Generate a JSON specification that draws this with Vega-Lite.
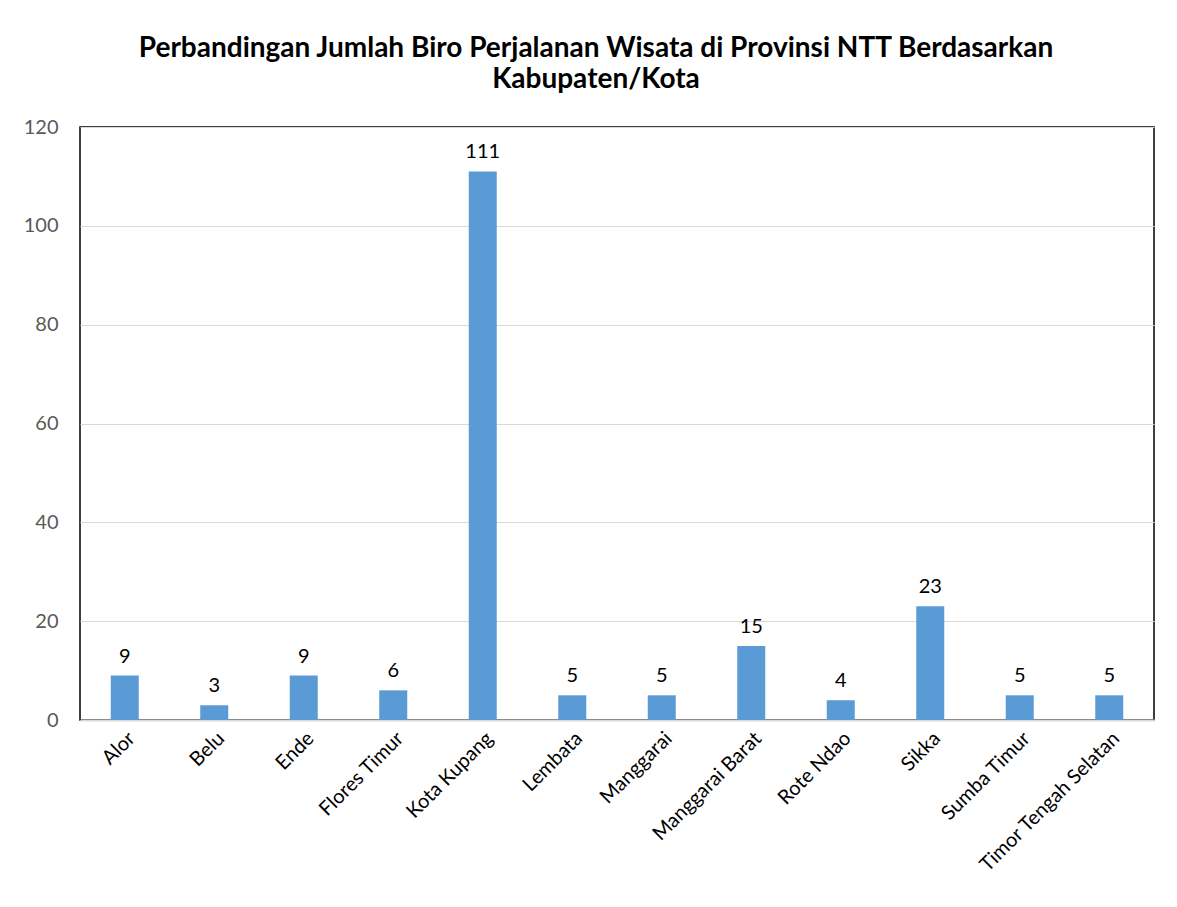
{
  "$schema": "https://vega.github.io/schema/vega-lite/v6.json",
  "autosize": {"type": "none"},
  "padding": {"left": 80, "top": 127, "right": 23, "bottom": 187},
  "width": 1074,
  "height": 593,
  "background": "white",
  "title": {
    "text": ["Perbandingan Jumlah Biro Perjalanan Wisata di Provinsi NTT Berdasarkan", "Kabupaten/Kota"],
    "font": "Lato",
    "fontSize": 28,
    "fontWeight": "bold",
    "color": "#000000",
    "lineHeight": 31,
    "anchor": "middle",
    "dx": -21,
    "offset": 23
  },
  "data": {
    "values": [
      {"kab": "Alor", "jumlah": 9},
      {"kab": "Belu", "jumlah": 3},
      {"kab": "Ende", "jumlah": 9},
      {"kab": "Flores Timur", "jumlah": 6},
      {"kab": "Kota Kupang", "jumlah": 111},
      {"kab": "Lembata", "jumlah": 5},
      {"kab": "Manggarai", "jumlah": 5},
      {"kab": "Manggarai Barat", "jumlah": 15},
      {"kab": "Rote Ndao", "jumlah": 4},
      {"kab": "Sikka", "jumlah": 23},
      {"kab": "Sumba Timur", "jumlah": 5},
      {"kab": "Timor Tengah Selatan", "jumlah": 5}
    ]
  },
  "config": {
    "view": {"stroke": "#000000", "strokeWidth": 1.5},
    "font": "Lato"
  },
  "encoding": {
    "x": {
      "field": "kab",
      "type": "nominal",
      "sort": null,
      "title": null,
      "scale": {"paddingInner": 0.687, "paddingOuter": 0.3435},
      "axis": {
        "labelAngle": -45,
        "labelFontSize": 20,
        "labelColor": "#000000",
        "labelFont": "Lato",
        "labelPadding": 8,
        "labelLimit": 0,
        "ticks": false,
        "domainColor": "#d9d9d9",
        "domainWidth": 2,
        "grid": false
      }
    },
    "y": {
      "field": "jumlah",
      "type": "quantitative",
      "title": null,
      "scale": {"domain": [0, 120], "nice": false},
      "axis": {
        "values": [0, 20, 40, 60, 80, 100, 120],
        "labelFontSize": 20,
        "labelColor": "#595959",
        "labelFont": "Lato",
        "labelPadding": 22,
        "ticks": false,
        "domain": false,
        "gridColor": "#d9d9d9",
        "gridWidth": 1
      }
    }
  },
  "layer": [
    {"mark": {"type": "bar", "color": "#5b9bd5"}},
    {
      "mark": {"type": "text", "baseline": "bottom", "dy": -9, "fontSize": 20, "color": "#000000", "font": "Lato"},
      "encoding": {"text": {"field": "jumlah", "type": "quantitative"}}
    }
  ]
}
